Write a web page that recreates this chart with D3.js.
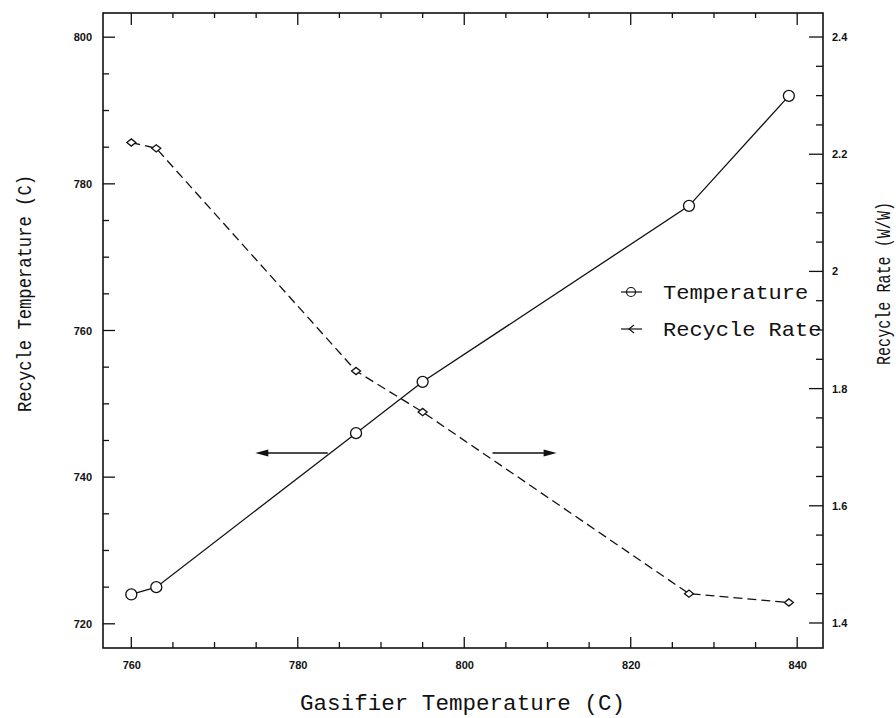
<!DOCTYPE html>
<html>
<head>
<meta charset="utf-8">
<script src="https://cdn.jsdelivr.net/npm/d3@7"></script>
<style>
  html, body { margin: 0; padding: 0; background: #fff; }
  svg { display: block; }
</style>
</head>
<body>
<script>
// ---- data ----
const gasifierTemps = [760, 763, 787, 795, 827, 839];
const recycleTemps = [724, 725, 746, 753, 777, 792];
const recycleRates = [2.22, 2.21, 1.83, 1.76, 1.45, 1.435];
const xTickLabels = [760, 780, 800, 820, 840];
const yLeftTickLabels = [720, 740, 760, 780, 800];
const yRightTickLabels = [1.4, 1.6, 1.8, 2.0, 2.2, 2.4];
const seriesNames = ["Temperature", "Recycle Rate"];
const arrowFrom = [783.6, 803.4];
const arrowTo = [774.9, 811.1];
const arrowY = 743.3;

const W = 896, H = 718;
const svg = d3.select("body").append("svg").attr("width", W).attr("height", H);

const L = 103, R = 823, T = 13, B = 648;
const x = d3.scaleLinear().domain([756.6, 843.1]).range([L, R]);
const yL = d3.scaleLinear().domain([716.7, 803.3]).range([B, T]);
const yR = d3.scaleLinear().domain([1.3573, 2.441]).range([B, T]);

const tickFont = "'Liberation Sans', Arial, sans-serif";
const monoFont = "'Liberation Mono', 'DejaVu Sans Mono', monospace";

const range = (a, b, s) => d3.range(0, Math.round((b - a) / s) + 1).map(i => +(a + i * s).toFixed(4));
const isMajor = (v, step) => Math.abs(v / step - Math.round(v / step)) < 1e-6;

// tick marks (inward), drawn from scales
const ticks = svg.append("g").attr("stroke", "#111").attr("stroke-width", 1.3);
range(760, 840, 5).forEach(v => {
  const len = isMajor(v, 20) ? 11 : 6;
  ticks.append("line").attr("x1", x(v)).attr("x2", x(v)).attr("y1", B).attr("y2", B - len);
  ticks.append("line").attr("x1", x(v)).attr("x2", x(v)).attr("y1", T).attr("y2", T + (isMajor(v, 20) ? 12 : 5));
});
range(720, 800, 5).forEach(v => {
  const len = isMajor(v, 20) ? 12 : 6;
  ticks.append("line").attr("x1", L).attr("x2", L + len).attr("y1", yL(v)).attr("y2", yL(v));
});
range(1.4, 2.4, 0.05).forEach(v => {
  const len = isMajor(v, 0.2) ? 14 : 7;
  ticks.append("line").attr("x1", R).attr("x2", R - len).attr("y1", yR(v)).attr("y2", yR(v));
});

function styleAxis(g) {
  g.select(".domain").remove();
  g.selectAll(".tick line").remove();
  g.selectAll(".tick text").attr("font-family", tickFont).attr("font-weight", "bold")
    .attr("font-size", 11).attr("fill", "#111");
}

// tick labels through d3 axes
svg.append("g").attr("transform", `translate(0,${B})`)
  .call(d3.axisBottom(x).tickValues(xTickLabels).tickSize(0).tickPadding(13).tickFormat(d3.format("d")))
  .call(styleAxis);
svg.append("g").attr("transform", `translate(${L},0)`)
  .call(d3.axisLeft(yL).tickValues(yLeftTickLabels).tickSize(0).tickPadding(11).tickFormat(d3.format("d")))
  .call(styleAxis);
svg.append("g").attr("transform", `translate(${R},0)`)
  .call(d3.axisRight(yR).tickValues(yRightTickLabels).tickSize(0).tickPadding(9).tickFormat(d => d === 2 ? "2" : d3.format(".1f")(d)))
  .call(styleAxis);

// frame
svg.append("rect").attr("x", L).attr("y", T).attr("width", R - L).attr("height", B - T)
  .attr("fill", "none").attr("stroke", "#111").attr("stroke-width", 1.6);

// series
const tempData = gasifierTemps.map((g, i) => ({ g, v: recycleTemps[i] }));
const rateData = gasifierTemps.map((g, i) => ({ g, v: recycleRates[i] }));

svg.append("path").datum(tempData)
  .attr("fill", "none").attr("stroke", "#111").attr("stroke-width", 1.3)
  .attr("d", d3.line().x(d => x(d.g)).y(d => yL(d.v)));
svg.append("path").datum(rateData)
  .attr("fill", "none").attr("stroke", "#111").attr("stroke-width", 1.3)
  .attr("stroke-dasharray", "9,5")
  .attr("d", d3.line().x(d => x(d.g)).y(d => yR(d.v)));

svg.selectAll("circle.tm").data(tempData).join("circle").attr("class", "tm")
  .attr("cx", d => x(d.g)).attr("cy", d => yL(d.v)).attr("r", 5.5)
  .attr("fill", "#fff").attr("stroke", "#111").attr("stroke-width", 1.3);

const diamond = (cx, cy, s) => `M${cx - s},${cy}L${cx},${cy - s * 0.8}L${cx + s},${cy}L${cx},${cy + s * 0.8}Z`;
svg.selectAll("path.rm").data(rateData).join("path").attr("class", "rm")
  .attr("d", d => diamond(x(d.g), yR(d.v), 4.5))
  .attr("fill", "#fff").attr("stroke", "#111").attr("stroke-width", 1.3);

// arrows
arrowFrom.forEach((f, i) => {
  const x0 = x(f), x1 = x(arrowTo[i]), yy = yL(arrowY);
  const dir = Math.sign(x1 - x0);
  svg.append("line").attr("x1", x0).attr("y1", yy).attr("x2", x1 - dir * 8).attr("y2", yy)
    .attr("stroke", "#111").attr("stroke-width", 1.5);
  svg.append("path")
    .attr("d", `M${x1},${yy}L${x1 - dir * 13},${yy - 3.5}L${x1 - dir * 13},${yy + 3.5}Z`)
    .attr("fill", "#111");
});

// legend
const legY = [292, 329];
seriesNames.forEach((name, i) => {
  const yy = legY[i];
  svg.append("line").attr("x1", 621).attr("x2", 642).attr("y1", yy).attr("y2", yy)
    .attr("stroke", "#111").attr("stroke-width", 1.2);
  if (i === 0) {
    svg.append("circle").attr("cx", 631).attr("cy", yy).attr("r", 4.5)
      .attr("fill", "none").attr("stroke", "#111").attr("stroke-width", 1.2);
  } else {
    svg.append("path").attr("d", `M634,${yy - 4}L629,${yy}L634,${yy + 4}`)
      .attr("fill", "none").attr("stroke", "#111").attr("stroke-width", 1.2);
  }
  svg.append("text").attr("x", 663).attr("y", yy + 6.5)
    .attr("font-family", monoFont).attr("font-size", 21).attr("fill", "#111")
    .attr("textLength", name.length * 13.2).attr("lengthAdjust", "spacingAndGlyphs")
    .text(name);
});

// axis titles
svg.append("text").attr("x", 300).attr("y", 710)
  .attr("font-family", monoFont).attr("font-size", 22).attr("fill", "#111")
  .attr("textLength", 325).attr("lengthAdjust", "spacingAndGlyphs")
  .text("Gasifier Temperature (C)");

svg.append("text").attr("transform", "translate(31,412) rotate(-90)")
  .attr("font-family", monoFont).attr("font-size", 21).attr("fill", "#111")
  .attr("textLength", 237).attr("lengthAdjust", "spacingAndGlyphs")
  .text("Recycle Temperature (C)");

svg.append("text").attr("transform", "translate(890,365) rotate(-90)")
  .attr("font-family", monoFont).attr("font-size", 20).attr("fill", "#111")
  .attr("textLength", 163).attr("lengthAdjust", "spacingAndGlyphs")
  .text("Recycle Rate (W/W)");
</script>
</body>
</html>
